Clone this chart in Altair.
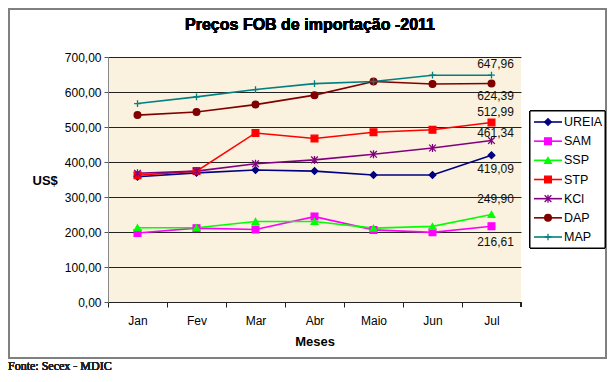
import altair as alt
import pandas as pd

MONTHS = ["Jan", "Fev", "Mar", "Abr", "Maio", "Jun", "Jul"]
SERIES = ["UREIA", "SAM", "SSP", "STP", "KCl", "DAP", "MAP"]

UREIA = [358, 369, 377, 374, 363, 363, 419.09]
SAM = [197, 211, 207, 244, 206, 199, 216.61]
SSP = [212, 212, 230, 230, 211, 216, 249.90]
STP = [362, 374, 483, 467, 485, 492, 512.99]
KCL = [368, 374, 395, 406, 422, 440, 461.34]
DAP = [534, 543, 564, 591, 630, 623, 624.39]
MAP = [567, 586, 607, 624, 630, 648, 647.96]

VALUES = {"UREIA": UREIA, "SAM": SAM, "SSP": SSP, "STP": STP, "KCl": KCL, "DAP": DAP, "MAP": MAP}
Y_TICKS = [0, 100, 200, 300, 400, 500, 600, 700]

# style: vertical offset (px) of the end-value label for each series
LABEL_DY = {"MAP": -11, "DAP": 13, "STP": -10, "KCl": -8, "UREIA": 14, "SSP": -16, "SAM": 16}

COLORS = ["#000080", "#FF00FF", "#00FF00", "#FF0000", "#800080", "#800000", "#008080"]
ASTER = "M-1,-1L1,1M-1,1L1,-1M0,-1.2L0,1.2"
PLUS = "M-1,0L1,0M0,-1L0,1"
SHAPES = ["diamond", "square", "triangle-up", "square", ASTER, "circle", PLUS]
SIZES = [45, 45, 60, 110, 60, 45, 60]

rows = []
for s in SERIES:
    for m, v in zip(MONTHS, VALUES[s]):
        rows.append({"series": s, "month": m, "value": v})
df = pd.DataFrame(rows)
leg = pd.DataFrame({"series": SERIES})

W, H = 413, 245
FONT = "Liberation Sans"

x = alt.X("month:N", sort=MONTHS,
          scale=alt.Scale(type="point", domain=MONTHS, padding=0.5),
          axis=alt.Axis(title="Meses", labelAngle=0, tickOffset=-29.5, labelOffset=29.5,
                        tickSize=5, tickColor="#222", domainColor="#222", labelPadding=8,
                        labelFont=FONT, labelFontSize=12, labelColor="#000",
                        titleFont=FONT, titleFontSize=13, titleFontWeight="bold",
                        titlePadding=9, titleColor="#000", grid=False))

y_axis = alt.Axis(values=Y_TICKS,
                  labelExpr="replace(format(datum.value, '.2f'), '.', ',')",
                  title="US$", titleAngle=0, titleX=-76, titleY=123, titleAlign="left",
                  titleBaseline="middle", titleFont=FONT, titleFontSize=13,
                  titleFontWeight="bold", titleColor="#000",
                  labelFont=FONT, labelFontSize=12, labelColor="#000", labelPadding=3,
                  tickSize=4, tickColor="#555", domainColor="#888",
                  grid=True, gridColor="#222", gridWidth=1)
yscale = alt.Scale(domain=[0, 700], nice=False, zero=True)
y_main = alt.Y("value:Q", scale=yscale, axis=y_axis)
y_plain = alt.Y("value:Q", scale=yscale, axis=None)

color = alt.Color("series:N", scale=alt.Scale(domain=SERIES, range=COLORS), legend=None)
stroke = alt.Stroke("series:N", scale=alt.Scale(domain=SERIES, range=COLORS), legend=None)
shape = alt.Shape("series:N", scale=alt.Scale(domain=SERIES, range=SHAPES), legend=None)
size = alt.Size("series:O", scale=alt.Scale(domain=SERIES, range=SIZES), legend=None)

base = alt.Chart(df)

frame = alt.Chart(leg).mark_rect(fillOpacity=0, stroke="#808080", strokeWidth=1.5).encode(
    x=alt.value(-99), x2=alt.value(498), y=alt.value(-48), y2=alt.value(301))

lines = base.mark_line(strokeWidth=1.6).encode(x=x, y=y_main, color=color)
points = base.mark_point(filled=True, opacity=1, strokeWidth=1.3).encode(
    x=x, y=y_plain, color=color, stroke=stroke, shape=shape, size=size)

lbl_calc = "replace(format(datum.value, '.2f'), '.', ',')"
label_layers = []
for s in SERIES:
    label_layers.append(
        base.transform_filter(alt.datum.series == s)
        .transform_filter(alt.datum.month == MONTHS[-1])
        .transform_calculate(lbl=lbl_calc)
        .mark_text(font=FONT, fontSize=12, fontWeight="normal", color="#111", dx=4,
                   dy=LABEL_DY[s], baseline="middle")
        .encode(x=x, y=y_plain, text="lbl:N")
    )

end_tick = alt.Chart(leg).mark_rule(color="#222").encode(
    x=alt.value(W), y=alt.value(H), y2=alt.value(H + 5))

title = alt.Chart(leg).mark_text(
    text="Preços FOB de importação -2011", font=FONT, fontSize=16, fontWeight="bold",
    color="#000", align="center", baseline="middle").encode(
    x=alt.value(202), y=alt.value(-32))

fonte = alt.Chart(leg).mark_text(
    text="Fonte: Secex - MDIC", font="serif", fontSize=12, fontWeight=400,
    color="#222", align="left", baseline="alphabetic").encode(x=alt.value(-100), y=alt.value(313))

leg_y = alt.Y("series:N", scale=alt.Scale(type="point", domain=SERIES, range=[65, 180], padding=0),
              axis=None)
leg_box = alt.Chart(leg).mark_rect(fill="white", stroke="#000", strokeWidth=1).encode(
    x=alt.value(422), x2=alt.value(497), y=alt.value(54), y2=alt.value(191))
leg_lines = alt.Chart(leg).mark_rule(strokeWidth=1.6).encode(
    x=alt.value(426), x2=alt.value(454), y=leg_y, color=color)
leg_points = alt.Chart(leg).mark_point(filled=True, opacity=1, strokeWidth=1.3).encode(
    x=alt.value(440), y=leg_y, color=color, stroke=stroke, shape=shape, size=size)
leg_text = alt.Chart(leg).mark_text(font=FONT, fontSize=12.5, fontWeight="normal", color="#000",
                                    align="left", baseline="middle").encode(
    x=alt.value(456), y=leg_y, text="series:N")

chart = alt.layer(
    frame, lines, points, *label_layers, end_tick, title, fonte,
    leg_box, leg_lines, leg_points, leg_text
).resolve_scale(y="independent").properties(
    width=W, height=H,
    autosize=alt.AutoSizeParams(type="none"),
    padding={"left": 100, "top": 49, "right": 86, "bottom": 72},
    background="white",
).configure_view(fill="#FAF1DE", stroke=None)

chart.save("out.html", embed_options={"renderer": "svg", "actions": False})
